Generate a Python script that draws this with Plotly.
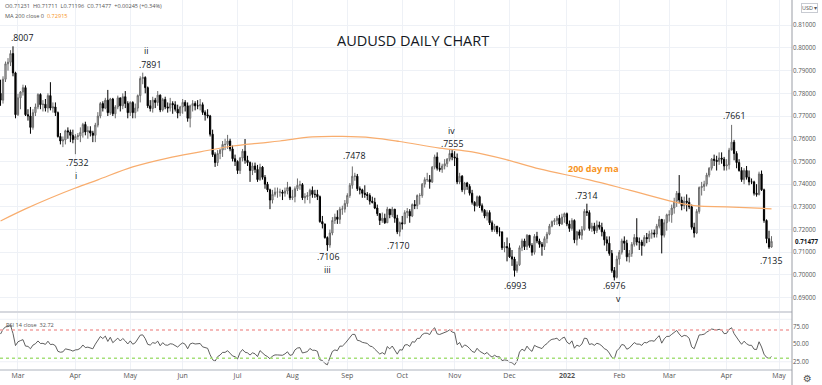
import numpy as np
import pandas as pd
import plotly.graph_objects as go

# ---------------- data (prices in pips, i.e. 7800 = 0.7800) ----------------
first_open_pips = 7800

close_pips = [
    # Feb 2021 (18th onward)
    7770, 7862, 7930, 7937, 7975, 7890, 7706,
    # Mar 2021
    7780, 7806, 7825, 7706, 7700, 7650, 7715, 7740, 7795, 7750, 7752, 7735, 7790, 7735, 7740, 7715, 7610, 7590, 7595, 7635, 7630, 7615, 7597,
    # Apr 2021
    7610, 7613, 7628, 7663, 7630, 7635, 7625, 7615, 7660, 7700, 7755, 7735, 7770, 7715, 7775, 7710, 7740, 7780, 7745, 7785, 7755, 7715,
    # May 2021
    7760, 7715, 7735, 7790, 7865, 7870, 7825, 7745, 7733, 7770, 7760, 7792, 7727, 7773, 7740, 7735, 7755, 7750, 7730, 7713, 7740,
    # Jun 2021
    7760, 7745, 7690, 7745, 7755, 7745, 7745, 7750, 7716, 7705, 7700, 7620, 7530, 7495, 7535, 7550, 7575, 7575, 7590, 7555, 7512, 7500,
    # Jul 2021
    7460, 7515, 7545, 7505, 7495, 7460, 7480, 7465, 7420, 7475, 7430, 7400, 7375, 7330, 7355, 7365, 7365, 7365, 7360, 7370, 7385, 7340,
    # Aug 2021
    7345, 7380, 7395, 7398, 7340, 7345, 7350, 7373, 7355, 7355, 7345, 7235, 7225, 7165, 7132, 7185, 7240, 7255, 7245, 7290, 7290, 7315,
    # Sep 2021
    7350, 7395, 7435, 7435, 7380, 7375, 7360, 7355, 7350, 7325, 7320, 7295, 7270, 7240, 7250, 7230, 7290, 7265, 7290, 7250, 7190, 7230,
    # Oct 2021
    7225, 7275, 7280, 7260, 7310, 7305, 7350, 7350, 7400, 7420, 7420, 7410, 7475, 7520, 7470, 7465, 7480, 7490, 7510, 7535, 7520,
    # Nov 2021
    7515, 7410, 7435, 7375, 7405, 7390, 7360, 7320, 7305, 7345, 7305, 7285, 7260, 7275, 7230, 7200, 7215, 7190, 7190, 7120, 7125, 7120,
    # Dec 2021
    7080, 7070, 7020, 7045, 7120, 7150, 7125, 7175, 7130, 7100, 7170, 7150, 7135, 7125, 7160, 7180, 7215, 7235, 7240, 7250, 7225, 7255, 7270,
    # Jan 2022
    7225, 7205, 7240, 7155, 7190, 7175, 7200, 7280, 7275, 7205, 7215, 7195, 7220, 7210, 7190, 7155, 7140, 7095, 7020, 6990, 7070,
    # Feb 2022
    7100, 7150, 7140, 7080, 7095, 7135, 7165, 7145, 7145, 7130, 7165, 7160, 7180, 7185, 7180, 7215, 7245, 7175, 7230, 7265,
    # Mar 2022
    7265, 7295, 7325, 7360, 7330, 7305, 7325, 7320, 7300, 7210, 7185, 7280, 7385, 7390, 7400, 7440, 7470, 7510, 7505, 7500, 7515, 7510, 7480,
    # Apr 2022
    7485, 7550, 7585, 7535, 7495, 7460, 7420, 7460, 7430, 7410, 7410, 7360, 7355, 7445, 7375, 7240, 7160, 7123, 7148,
]

high_pips = [
    7860, 7875, 7940, 7955, 7990, 8007, 7895,
    7798, 7810, 7838, 7835, 7730, 7740, 7730, 7755, 7800, 7800, 7770, 7775, 7800, 7849, 7760, 7760, 7720, 7625, 7610, 7640, 7650, 7640, 7640,
    7620, 7625, 7650, 7670, 7675, 7655, 7655, 7635, 7670, 7717, 7762, 7765, 7780, 7815, 7780, 7780, 7748, 7790, 7780, 7800, 7810, 7765,
    7765, 7765, 7755, 7795, 7875, 7891, 7875, 7830, 7770, 7785, 7780, 7810, 7795, 7780, 7785, 7760, 7780, 7765, 7765, 7750, 7745,
    7775, 7770, 7760, 7750, 7770, 7765, 7770, 7775, 7760, 7725, 7730, 7705, 7640, 7540, 7550, 7555, 7590, 7600, 7617, 7600, 7570, 7530,
    7505, 7520, 7555, 7599, 7525, 7500, 7495, 7495, 7485, 7490, 7480, 7440, 7410, 7380, 7375, 7385, 7385, 7380, 7375, 7385, 7410, 7390,
    7375, 7390, 7425, 7415, 7405, 7360, 7365, 7380, 7390, 7375, 7375, 7350, 7260, 7225, 7170, 7200, 7255, 7270, 7285, 7300, 7305, 7330,
    7360, 7405, 7478, 7450, 7445, 7390, 7380, 7395, 7365, 7360, 7345, 7340, 7310, 7265, 7275, 7270, 7300, 7290, 7300, 7290, 7265, 7235,
    7260, 7285, 7295, 7290, 7315, 7330, 7355, 7360, 7405, 7430, 7450, 7440, 7480, 7530, 7540, 7495, 7490, 7510, 7515, 7555, 7550,
    7545, 7535, 7450, 7440, 7410, 7410, 7400, 7375, 7325, 7350, 7350, 7315, 7290, 7285, 7285, 7240, 7225, 7215, 7210, 7190, 7145, 7165,
    7140, 7110, 7080, 7060, 7130, 7160, 7160, 7180, 7175, 7140, 7180, 7190, 7160, 7145, 7170, 7190, 7225, 7240, 7250, 7260, 7265, 7270, 7275,
    7275, 7240, 7250, 7245, 7195, 7200, 7215, 7290, 7314, 7285, 7230, 7230, 7240, 7235, 7230, 7200, 7170, 7170, 7110, 7035, 7085,
    7110, 7160, 7170, 7155, 7110, 7145, 7180, 7250, 7165, 7155, 7175, 7185, 7195, 7200, 7200, 7225, 7260, 7235, 7245, 7270,
    7285, 7310, 7340, 7370, 7440, 7345, 7345, 7355, 7340, 7310, 7230, 7290, 7390, 7410, 7415, 7450, 7475, 7515, 7530, 7525, 7540, 7540, 7520,
    7510, 7560, 7661, 7595, 7545, 7510, 7475, 7470, 7480, 7460, 7425, 7415, 7400, 7455, 7460, 7380, 7245, 7195, 7171,
]

low_pips = [
    7745, 7755, 7850, 7900, 7920, 7875, 7690,
    7700, 7730, 7790, 7700, 7680, 7622, 7640, 7700, 7730, 7730, 7720, 7720, 7715, 7725, 7715, 7700, 7605, 7575, 7563, 7575, 7600, 7585, 7580,
    7532, 7595, 7585, 7605, 7615, 7600, 7610, 7585, 7585, 7650, 7690, 7720, 7730, 7700, 7705, 7700, 7690, 7730, 7720, 7730, 7735, 7690,
    7700, 7690, 7690, 7720, 7760, 7840, 7800, 7735, 7720, 7715, 7735, 7745, 7717, 7720, 7730, 7715, 7720, 7710, 7720, 7690, 7700,
    7710, 7720, 7675, 7650, 7720, 7725, 7730, 7725, 7705, 7680, 7690, 7610, 7520, 7476, 7480, 7510, 7520, 7550, 7555, 7545, 7500, 7480,
    7445, 7445, 7500, 7490, 7480, 7410, 7440, 7450, 7410, 7415, 7420, 7380, 7365, 7290, 7315, 7345, 7340, 7345, 7330, 7345, 7355, 7330,
    7330, 7320, 7370, 7375, 7330, 7315, 7330, 7315, 7340, 7340, 7330, 7230, 7205, 7160, 7106, 7120, 7175, 7225, 7225, 7225, 7265, 7275,
    7300, 7340, 7380, 7415, 7370, 7355, 7340, 7340, 7330, 7310, 7315, 7290, 7260, 7220, 7230, 7225, 7230, 7250, 7255, 7230, 7180, 7170,
    7200, 7225, 7250, 7230, 7255, 7290, 7290, 7310, 7340, 7385, 7410, 7380, 7405, 7465, 7460, 7455, 7450, 7465, 7475, 7500, 7505,
    7480, 7400, 7400, 7365, 7355, 7375, 7350, 7310, 7280, 7300, 7295, 7275, 7250, 7240, 7220, 7190, 7190, 7180, 7170, 7110, 7100, 7060,
    7075, 7040, 6993, 7010, 7040, 7105, 7110, 7110, 7120, 7085, 7090, 7140, 7120, 7085, 7110, 7140, 7175, 7210, 7220, 7220, 7215, 7220, 7230,
    7215, 7190, 7195, 7140, 7130, 7160, 7155, 7195, 7260, 7195, 7190, 7180, 7185, 7200, 7170, 7130, 7105, 7085, 7010, 6976, 6985,
    7045, 7090, 7110, 7060, 7055, 7080, 7125, 7130, 7110, 7085, 7125, 7140, 7145, 7160, 7165, 7165, 7205, 7095, 7165, 7195,
    7235, 7230, 7270, 7300, 7315, 7285, 7290, 7280, 7290, 7200, 7165, 7180, 7270, 7350, 7370, 7390, 7430, 7460, 7480, 7460, 7485, 7490, 7460,
    7460, 7465, 7560, 7505, 7470, 7455, 7410, 7400, 7420, 7395, 7400, 7350, 7345, 7350, 7370, 7230, 7140, 7115, 7120,
]

# 200-day moving average
ma_dates = ["2021-02-18", "2021-03-04", "2021-03-18", "2021-04-01", "2021-04-14", "2021-05-04",
            "2021-05-24", "2021-06-10", "2021-06-29", "2021-07-14", "2021-07-26", "2021-08-12",
            "2021-08-30", "2021-09-15", "2021-09-30", "2021-10-22", "2021-11-10", "2021-11-30",
            "2021-12-17", "2022-01-14", "2022-02-07", "2022-03-03", "2022-03-16", "2022-04-01",
            "2022-04-27"]
ma_values = [0.7238, 0.7291, 0.7339, 0.7383, 0.7419, 0.7476,
             0.7515, 0.7542, 0.7568, 0.7581, 0.7590, 0.7608,
             0.7610, 0.7604, 0.7588, 0.7559, 0.7542, 0.7507,
             0.7467, 0.7419, 0.7374, 0.7322, 0.7304, 0.7300,
             0.72915]

# RSI(14) Wilder seed (average gain / loss before the first bar)
rsi_seed_gain = 0.0022
rsi_seed_loss = 0.0010

month_ticks = ["2021-03-01", "2021-04-01", "2021-05-03", "2021-06-01", "2021-07-01", "2021-08-02",
               "2021-09-01", "2021-10-01", "2021-11-01", "2021-12-01", "2022-01-03", "2022-02-01",
               "2022-03-01", "2022-04-01", "2022-05-02"]
month_labels = ["Mar", "Apr", "May", "Jun", "Jul", "Aug", "Sep", "Oct", "Nov", "Dec",
                "<b>2022</b>", "Feb", "Mar", "Apr", "May"]

price_ticks = [0.69, 0.70, 0.71, 0.72, 0.73, 0.74, 0.75, 0.76, 0.77, 0.78, 0.79, 0.80, 0.81]
rsi_ticks = [25, 50, 75]

wave_labels = [
    (".8007", 22, 38), ("ii", 146, 51), (".7891", 150, 65), (".7532", 77, 163), ("i", 76, 176),
    (".7478", 354, 156), (".7106", 328, 257), ("iii", 327, 270), (".7170", 398, 246),
    ("iv", 451, 131), (".7555", 452, 144), (".6993", 515, 286), (".7314", 586, 196),
    (".6976", 614, 286), ("v", 618, 299), (".7661", 734, 116), (".7135", 771, 261),
]

# ---------------- derived ----------------
dates = pd.bdate_range("2021-02-18", "2022-04-27")
closes = np.array(close_pips) / 10000.0
highs = np.array(high_pips) / 10000.0
lows = np.array(low_pips) / 10000.0
opens = np.concatenate([[first_open_pips / 10000.0], closes[:-1]])

g, l = rsi_seed_gain, rsi_seed_loss
rsi = []
for d in closes - opens:
    g = (g * 13 + max(d, 0)) / 14
    l = (l * 13 + max(-d, 0)) / 14
    rsi.append(100 - 100 / (1 + g / l))

# ---------------- figure ----------------
W, H = 822, 385
ML, MR, MT, MB = 0, 30, 0, 15
PW, PH = W - ML - MR, H - MT - MB
SEP = 312  # pixel y of pane separator


def px(x):
    return (x - ML) / PW


def py(y):
    return (PH - (y - MT)) / PH


FONT = "Open Sans, Noto Sans, sans-serif"
GRID = "#eef1f6"

fig = go.Figure()
fig.add_trace(go.Candlestick(
    x=dates, open=opens, high=highs, low=lows, close=closes,
    increasing=dict(line=dict(color="#6b6b6b", width=1), fillcolor="#c4c4c4"),
    decreasing=dict(line=dict(color="#000000", width=1), fillcolor="#000000"),
    whiskerwidth=0, showlegend=False, hoverinfo="skip", xaxis="x", yaxis="y"))
fig.add_trace(go.Scatter(
    x=pd.to_datetime(ma_dates), y=ma_values, mode="lines",
    line=dict(color="#f8ad6e", width=1.2, shape="spline"),
    showlegend=False, hoverinfo="skip", xaxis="x", yaxis="y"))
fig.add_trace(go.Scatter(
    x=dates, y=rsi, mode="lines", line=dict(color="#4d4d4d", width=0.9),
    showlegend=False, hoverinfo="skip", xaxis="x", yaxis="y2"))

pane_split = py(SEP)
fig.update_layout(
    width=W, height=H, margin=dict(l=ML, r=MR, t=MT, b=MB, pad=0),
    paper_bgcolor="white", plot_bgcolor="white",
    font=dict(family=FONT, color="#131722"),
    xaxis=dict(type="date", anchor="y2", automargin=False,
               range=["2021-02-17 19:00", "2022-05-09 05:00"],
               rangebreaks=[dict(bounds=["sat", "mon"])],
               rangeslider=dict(visible=False),
               tickvals=month_ticks, ticktext=month_labels,
               tickfont=dict(size=7, color="#555"), ticks="", ticklen=0,
               showgrid=True, gridcolor=GRID, gridwidth=1,
               showline=False, zeroline=False),
    yaxis=dict(domain=[pane_split, 1], range=[0.6837, 0.8211], side="right", anchor="x",
               automargin=False,
               tickvals=price_ticks, ticktext=[f"{v:.5f}" for v in price_ticks],
               tickfont=dict(size=6.2, color="#555"), ticks="", ticklen=0,
               showgrid=True, gridcolor=GRID, zeroline=False, showline=False),
    yaxis2=dict(domain=[0, pane_split - 0.004], range=[13.4, 93.2], side="right", anchor="x",
                automargin=False,
                tickvals=rsi_ticks, ticktext=[f"{v:.2f}" for v in rsi_ticks],
                tickfont=dict(size=6.2, color="#555"), ticks="", ticklen=0,
                showgrid=False, zeroline=False, showline=False),
    shapes=[
        dict(type="line", xref="paper", yref="y2", x0=0, x1=1, y0=85, y1=85,
             line=dict(color=GRID, width=1)),
        dict(type="line", xref="paper", yref="y2", x0=0, x1=1, y0=25, y1=25,
             line=dict(color=GRID, width=1)),
        dict(type="line", xref="paper", yref="y2", x0=0, x1=1, y0=70, y1=70,
             line=dict(color="#f2a3a3", width=1.5, dash="dot")),
        dict(type="line", xref="paper", yref="y2", x0=0, x1=1, y0=30, y1=30,
             line=dict(color="#a6e07a", width=1.5, dash="dot")),
        dict(type="line", xref="paper", yref="paper", x0=0, x1=1, y0=pane_split, y1=pane_split,
             line=dict(color="#d6d8de", width=2)),
        dict(type="line", xref="paper", yref="paper", x0=0, x1=1, y0=0, y1=0,
             line=dict(color="#c9ccd3", width=1.5)),
        dict(type="line", xref="paper", yref="paper", x0=1, x1=1, y0=py(H), y1=1,
             line=dict(color="#9a9da5", width=1)),
    ],
)


def label(text, x, y, size, color="#131722", **kw):
    d = dict(text=text, x=px(x), y=py(y), xref="paper", yref="paper", showarrow=False,
             xanchor="center", yanchor="middle", font=dict(size=size, color=color))
    d.update(kw)
    return d


ann = []
ann.append(label("AUDUSD DAILY CHART", 413, 40, 14.5))
ann.append(label("O0.71231  H0.71711  L0.71196  C0.71477  +0.00245 (+0.34%)", 3, 6, 5.6,
                 "#555", xanchor="left"))
ann.append(label("MA 200 close 0  <span style='color:#f7931e'>0.72915</span>", 3, 16, 5.6,
                 "#555", xanchor="left"))
ann.append(label("RSI 14 close  32.72", 4, 325, 5.6, "#555", xanchor="left"))
ann.append(label("<b>200 day ma</b>", 593, 168, 9, "#f7931e"))
for t, x, y in wave_labels:
    ann.append(label(t, x, y, 8.8))
ann.append(dict(text="<b>0.71477</b>", x=1, y=0.71477, xref="paper", yref="y", xanchor="left",
                yanchor="middle", xshift=1, showarrow=False, bgcolor="white",
                font=dict(size=6.2, color="#131722")))
ann.append(label("USD ▾", 809, 8, 5.5, "#555", bordercolor="#c8cbd2", borderwidth=1,
                 borderpad=0, bgcolor="white"))
ann.append(label("⚙", 808, 378, 10, "#555"))
ann[-1]["font"]["family"] = "DejaVu Sans"
fig.update_layout(annotations=ann)

fig.write_html("out.html", config={"displayModeBar": False, "staticPlot": True},
               post_script="document.body.style.margin='0px';")
